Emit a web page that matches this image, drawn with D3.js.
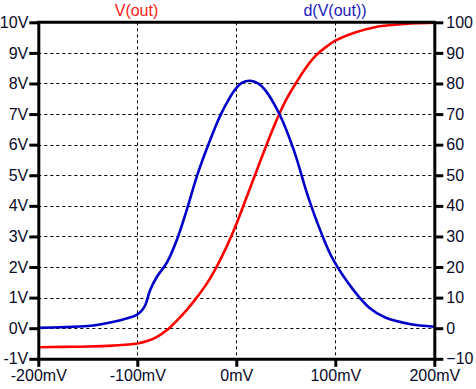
<!DOCTYPE html>
<html>
<head>
<meta charset="utf-8">
<script src="https://cdn.jsdelivr.net/npm/d3@7"></script>
<style>
  body { margin: 0; background: #fff; }
  svg { display: block; font-family: "Liberation Sans", Arial, sans-serif; }
</style>
</head>
<body>
<svg id="canvas" width="476" height="389"></svg>
<script>
// sweep values in mV
let vinMv = [-200, -175, -150, -125, -100, -90, -80, -70, -60, -50, -40, -30, -20, -10, 0, 10, 20, 30, 40, 50, 60, 70, 80, 90, 100, 120, 140, 160, 180, 200]
// V(out) in volts
let vout = [-0.62, -0.61, -0.60, -0.57, -0.50, -0.42, -0.28, -0.06, 0.25, 0.6, 1.0, 1.45, 2.0, 2.65, 3.4, 4.25, 5.1, 5.95, 6.75, 7.45, 8.0, 8.5, 8.9, 9.18, 9.4, 9.67, 9.84, 9.92, 9.97, 9.99]

// d(V(out)) samples
let dMv = [-200, -178, -150, -138, -125, -111, -101, -96, -92, -87, -80, -70, -60, -50, -40, -28, -15, -1, 6, 14, 22, 29, 44, 58, 73, 86, 98, 118, 134, 151, 175, 200]
let dVout = [0.1, 0.3, 0.7, 1.2, 2.0, 3.2, 4.3, 5.6, 7.5, 12.5, 16.9, 21.5, 28.9, 38.7, 49.5, 60.2, 70.3, 78.1, 80.3, 80.9, 80, 77.9, 69.7, 58.3, 42.5, 31, 22.3, 12.6, 6.8, 3.4, 1.4, 0.5]

let xTicks = [-200, -100, 0, 100, 200]
let leftTicks = [-1, 0, 1, 2, 3, 4, 5, 6, 7, 8, 9, 10]
let rightTicks = [-10, 0, 10, 20, 30, 40, 50, 60, 70, 80, 90, 100]

let canvas = d3.select('#canvas')

let xScale = d3.scaleLinear().domain([-200, 200]).range([38.3, 434.3])
let yLeft = d3.scaleLinear().domain([-1, 10]).range([358.8, 22.3])
let yRight = d3.scaleLinear().domain([-10, 100]).range([358.8, 22.3])

let labelColor = '#0a0a2a'

// dashed grid
let grid = canvas.append('g')
grid.selectAll('.hgrid')
    .data(leftTicks.slice(1, -1))
    .enter()
    .append('line')
    .attr('x1', xScale(-200))
    .attr('x2', xScale(200))
    .attr('y1', (d) => Math.round(yLeft(d)) + 0.5)
    .attr('y2', (d) => Math.round(yLeft(d)) + 0.5)
grid.selectAll('.vgrid')
    .data(xTicks.slice(1, -1))
    .enter()
    .append('line')
    .attr('x1', (d) => Math.round(xScale(d)) + 0.5)
    .attr('x2', (d) => Math.round(xScale(d)) + 0.5)
    .attr('y1', yLeft(10))
    .attr('y2', yLeft(-1))
grid.selectAll('line')
    .attr('stroke', '#000')
    .attr('stroke-width', 1)
    .attr('stroke-dasharray', '3,3')

// curves
let line = d3.line().curve(d3.curveCatmullRom.alpha(0.5))

canvas.append('path')
    .attr('d', line(vinMv.map((v, i) => [xScale(v), yLeft(vout[i])])))
    .attr('fill', 'none')
    .attr('stroke', '#ff0000')
    .attr('stroke-width', 2.6)

canvas.append('path')
    .attr('d', line(dMv.map((v, i) => [xScale(v), yRight(dVout[i])])))
    .attr('fill', 'none')
    .attr('stroke', '#0000c8')
    .attr('stroke-width', 2.6)

// axes
function styleAxis(g) {
    g.select('.domain').attr('stroke', '#000').attr('stroke-width', 3)
    g.selectAll('.tick line').attr('stroke', '#000').attr('stroke-width', 3)
    g.selectAll('.tick text')
        .attr('fill', labelColor)
        .style('font-size', '16px')
        .style('font-family', '"Liberation Sans", Arial, sans-serif')
}

canvas.append('g')
    .attr('transform', 'translate(' + xScale(-200) + ',0)')
    .call(d3.axisLeft(yLeft).tickValues(leftTicks).tickSize(9).tickSizeOuter(0).tickPadding(1).tickFormat((d) => d + 'V'))
    .call(styleAxis)

canvas.append('g')
    .attr('transform', 'translate(' + xScale(200) + ',0)')
    .call(d3.axisRight(yRight).tickValues(rightTicks).tickSize(9).tickSizeOuter(0).tickPadding(3))
    .call(styleAxis)

canvas.append('g')
    .attr('transform', 'translate(0,' + yLeft(-1) + ')')
    .call(d3.axisBottom(xScale).tickValues(xTicks).tickSize(8).tickSizeOuter(0).tickPadding(3).tickFormat((d) => d + 'mV'))
    .call(styleAxis)

// top border
canvas.append('line')
    .attr('x1', xScale(-200) - 1.5)
    .attr('x2', xScale(200) + 1.5)
    .attr('y1', yLeft(10))
    .attr('y2', yLeft(10))
    .attr('stroke', '#000')
    .attr('stroke-width', 3)

// trace titles
canvas.append('text')
    .attr('x', 136.5)
    .attr('y', 16)
    .attr('text-anchor', 'middle')
    .attr('fill', '#ff1a1a')
    .style('font-size', '16px')
    .text('V(out)')

canvas.append('text')
    .attr('x', 335)
    .attr('y', 16)
    .attr('text-anchor', 'middle')
    .attr('fill', '#1a1ac0')
    .style('font-size', '16px')
    .text('d(V(out))')
</script>
</body>
</html>
